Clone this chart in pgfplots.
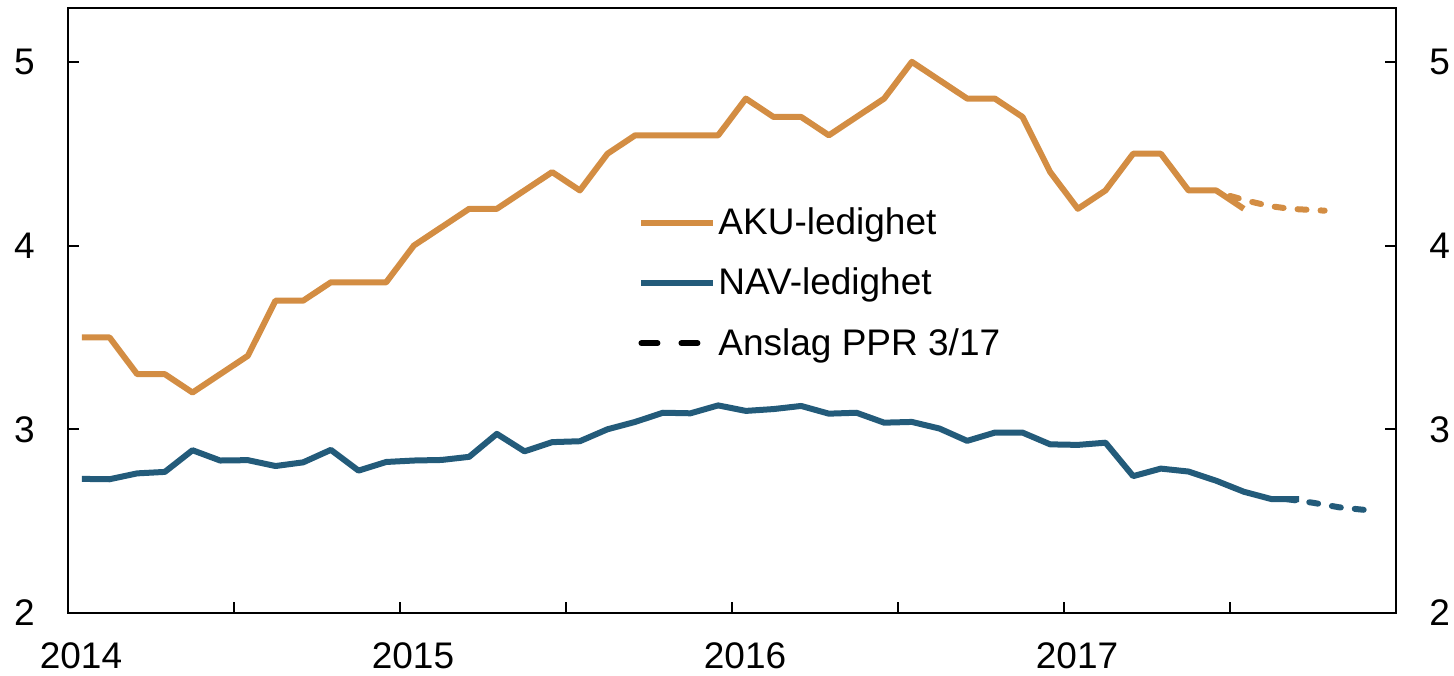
\documentclass[border=0pt]{standalone}
\usepackage{fontspec}
\setmainfont{Liberation Sans}
\usepackage{pgfplots}
\usepackage{pgfplotstable}
\pgfplotsset{compat=1.18}
\definecolor{aku}{RGB}{211,141,67}
\definecolor{nav}{RGB}{35,91,122}
\newcommand{\chfont}{\fontsize{18.5bp}{22bp}\selectfont}

\pgfplotstableread{
x y
2014.0417 3.5
2014.1250 3.5
2014.2083 3.3
2014.2917 3.3
2014.3750 3.2
2014.4583 3.3
2014.5417 3.4
2014.6250 3.7
2014.7083 3.7
2014.7917 3.8
2014.8750 3.8
2014.9583 3.8
2015.0417 4.0
2015.1250 4.1
2015.2083 4.2
2015.2917 4.2
2015.3750 4.3
2015.4583 4.4
2015.5417 4.3
2015.6250 4.5
2015.7083 4.6
2015.7917 4.6
2015.8750 4.6
2015.9583 4.6
2016.0417 4.8
2016.1250 4.7
2016.2083 4.7
2016.2917 4.6
2016.3750 4.7
2016.4583 4.8
2016.5417 5.0
2016.6250 4.9
2016.7083 4.8
2016.7917 4.8
2016.8750 4.7
2016.9583 4.4
2017.0417 4.2
2017.1250 4.3
2017.2083 4.5
2017.2917 4.5
2017.3750 4.3
2017.4583 4.3
2017.5417 4.2
}\aku

\pgfplotstableread{
x y
2014.0417 2.73
2014.1250 2.728
2014.2083 2.76
2014.2917 2.768
2014.3750 2.886
2014.4583 2.83
2014.5417 2.832
2014.6250 2.80
2014.7083 2.82
2014.7917 2.888
2014.8750 2.775
2014.9583 2.822
2015.0417 2.83
2015.1250 2.833
2015.2083 2.85
2015.2917 2.975
2015.3750 2.88
2015.4583 2.93
2015.5417 2.935
2015.6250 3.0
2015.7083 3.04
2015.7917 3.09
2015.8750 3.087
2015.9583 3.13
2016.0417 3.10
2016.1250 3.11
2016.2083 3.127
2016.2917 3.085
2016.3750 3.09
2016.4583 3.036
2016.5417 3.04
2016.6250 3.004
2016.7083 2.937
2016.7917 2.982
2016.8750 2.982
2016.9583 2.918
2017.0417 2.915
2017.1250 2.927
2017.2083 2.745
2017.2917 2.786
2017.3750 2.77
2017.4583 2.72
2017.5417 2.66
2017.6250 2.62
2017.7083 2.62
}\nav

\pgfplotsset{
  base/.style={
    scale only axis, width=664bp, height=302.5bp,
    xmin=2014, xmax=2018, ymin=2, ymax=5.293,
    tick align=inside, major tick length=5.5bp,
    tick style={line width=1bp, black},
    ytick={2,3,4,5},
    /pgf/number format/assume math mode=true,
    tick label style={font=\chfont},
  }
}

\begin{document}
\begin{tikzpicture}
\begin{axis}[base, name=main,
  axis line style={line width=1bp},
  xtick={2014,2014.5,2015,2015.5,2016,2016.5,2017,2017.5},
  xticklabels={2014,,2015,,2016,,2017,},
  xtick pos=left, ytick pos=left,
  xticklabel style={anchor=north, inner sep=0pt, yshift=-14.5bp, xshift=6.5bp},
  yticklabel style={anchor=east, inner sep=0pt, xshift=-16.5bp},
  legend style={draw=none, fill=none, inner sep=0pt, font=\chfont,
    at={(axis cs:2015.717,4.218)}, anchor=north west,
    nodes={inner sep=1bp}, row sep=13.2bp},
  legend cell align=left,
  legend image code/.code={\draw[#1] (0bp,0bp) -- (36bp,0bp);},
  every axis plot/.append style={line width=3bp, line join=round},
]
\addplot[aku, line width=3bp] table[x=x,y=y] {\aku};
\addlegendentry{AKU-ledighet}
\addplot[nav, line width=3bp] table[x=x,y=y] {\nav};
\addlegendentry{NAV-ledighet}
\addlegendimage{black, line width=3bp, line cap=round, dash pattern=on 8bp off 12bp}
\addlegendentry{Anslag PPR 3/17}
\addplot[aku, line width=3bp, line cap=round, dash pattern=on 4.5bp off 7bp, forget plot]
  coordinates {(2017.50,4.27) (2017.56,4.24) (2017.62,4.215) (2017.68,4.20) (2017.785,4.19)};
\addplot[nav, line width=3bp, line cap=round, dash pattern=on 4.5bp off 7bp, forget plot]
  coordinates {(2017.67,2.62) (2017.75,2.60) (2017.83,2.575) (2017.94,2.555)};
\end{axis}
\begin{axis}[base,
  hide x axis,
  axis line style={line width=1bp},
  ytick pos=right, yticklabel pos=right,
  yticklabel style={anchor=west, inner sep=0pt, xshift=16.5bp},
]
\end{axis}
\path ([shift={(-34bp,-31bp)}]main.south west) rectangle ([shift={(29bp,4bp)}]main.north east);
\end{tikzpicture}
\end{document}
